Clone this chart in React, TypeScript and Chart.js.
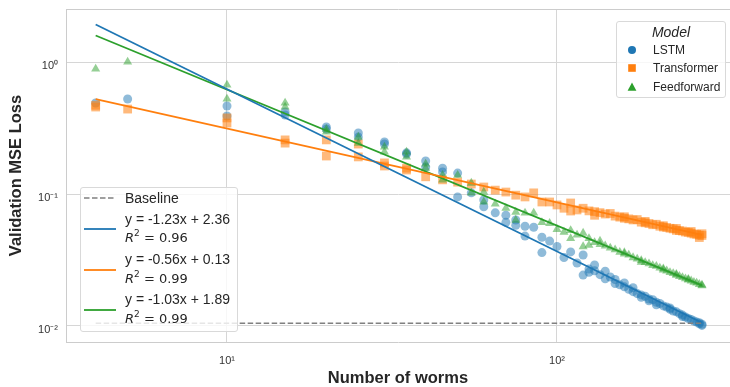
import React, { useEffect, useRef } from "react";
import { Chart, registerables } from "chart.js";

Chart.register(...registerables);

// ---- data (number of worms, validation MSE loss) ----
const lstmPoints: [number, number][] = [
  [4, 0.489], [5, 0.525], [10, 0.464], [10, 0.39], [15, 0.418], [15, 0.397],
  [20, 0.322], [20, 0.311], [25, 0.29], [25, 0.27], [30, 0.248], [30, 0.239],
  [35, 0.201], [35, 0.205], [40, 0.178], [40, 0.16], [45, 0.157], [45, 0.147],
  [50, 0.144], [50, 0.095], [55, 0.102], [60, 0.08], [60, 0.09], [65, 0.072],
  [70, 0.069], [70, 0.061], [75, 0.0635], [75, 0.058], [80, 0.057], [80, 0.048],
  [85, 0.056], [90, 0.047], [90, 0.036], [95, 0.044], [100, 0.04], [105, 0.033],
  [110, 0.0364], [115, 0.03], [120, 0.0345], [120, 0.0243], [125, 0.027], [125, 0.0255],
  [130, 0.0262], [130, 0.029], [135, 0.0245], [140, 0.0228], [140, 0.026], [145, 0.0235],
  [150, 0.021], [150, 0.0225], [155, 0.0205], [160, 0.0198], [160, 0.0212], [165, 0.019],
  [170, 0.0182], [170, 0.0195], [175, 0.0176], [180, 0.0172], [180, 0.0165], [185, 0.0168],
  [190, 0.016], [190, 0.0155], [195, 0.0158], [200, 0.0151], [200, 0.0145], [205, 0.0148],
  [210, 0.0142], [215, 0.0139], [220, 0.0134], [220, 0.0137], [225, 0.013], [230, 0.0128],
  [235, 0.0124], [240, 0.0121], [240, 0.0118], [245, 0.0117], [250, 0.0114], [255, 0.0112],
  [260, 0.0109], [265, 0.0107], [270, 0.0104], [270, 0.0106], [275, 0.0101], [275, 0.0103],
];

const transformerPoints: [number, number][] = [
  [4, 0.456], [4, 0.47], [5, 0.44], [10, 0.377], [10, 0.345], [15, 0.257], [15, 0.243],
  [20, 0.257], [20, 0.194], [25, 0.239], [25, 0.191], [30, 0.172], [30, 0.163],
  [35, 0.157], [35, 0.152], [40, 0.135], [45, 0.128], [50, 0.123], [55, 0.119],
  [60, 0.113], [65, 0.107], [70, 0.1035], [75, 0.098], [80, 0.095], [85, 0.102],
  [90, 0.087], [95, 0.087], [100, 0.0826], [105, 0.078], [110, 0.0855], [110, 0.0743],
  [115, 0.0757], [120, 0.078], [125, 0.0745], [130, 0.0735], [130, 0.069], [135, 0.0722],
  [140, 0.0705], [145, 0.0712], [150, 0.068], [155, 0.0668], [160, 0.0655], [160, 0.0672],
  [165, 0.0648], [170, 0.0636], [175, 0.064], [180, 0.0612], [185, 0.0605], [185, 0.062],
  [190, 0.0598], [195, 0.0585], [200, 0.059], [205, 0.057], [210, 0.0562], [210, 0.0575],
  [215, 0.0558], [220, 0.055], [225, 0.0544], [230, 0.053], [230, 0.0548], [235, 0.0528],
  [240, 0.0524], [245, 0.0515], [250, 0.0512], [255, 0.0505], [255, 0.052], [260, 0.0498],
  [265, 0.0495], [270, 0.0488], [270, 0.0468], [275, 0.0485], [275, 0.05],
];

const feedforwardPoints: [number, number][] = [
  [4, 0.885], [5, 1.0], [10, 0.67], [10, 0.525], [15, 0.489], [15, 0.456],
  [20, 0.295], [20, 0.31], [25, 0.243], [25, 0.27], [30, 0.227], [30, 0.208],
  [35, 0.191], [35, 0.208], [40, 0.157], [40, 0.169], [45, 0.128], [45, 0.139],
  [50, 0.139], [55, 0.121], [55, 0.102], [60, 0.1035], [60, 0.087], [65, 0.084],
  [70, 0.078], [75, 0.073], [75, 0.0635], [80, 0.072], [85, 0.072], [90, 0.061],
  [95, 0.06], [100, 0.054], [105, 0.0515], [110, 0.053], [110, 0.046], [115, 0.049],
  [120, 0.0506], [120, 0.04], [125, 0.046], [125, 0.041], [130, 0.043], [135, 0.0415],
  [135, 0.044], [140, 0.0405], [145, 0.039], [150, 0.0378], [155, 0.0362], [160, 0.0352],
  [160, 0.036], [165, 0.0345], [170, 0.033], [175, 0.0322], [180, 0.0314], [180, 0.0305],
  [185, 0.0303], [190, 0.0297], [195, 0.0288], [200, 0.0284], [205, 0.0275], [210, 0.0266],
  [210, 0.0272], [215, 0.0262], [220, 0.0255], [225, 0.025], [230, 0.0243], [230, 0.0247],
  [235, 0.0238], [240, 0.0233], [245, 0.0228], [250, 0.0223], [250, 0.0226], [255, 0.022],
  [260, 0.0215], [265, 0.0212], [270, 0.0207], [275, 0.0202], [275, 0.0205],
];

// fitted lines (end points) and baseline
const fitX = [4, 275];
const lstmFitY = [1.925, 0.01058];
const transformerFitY = [0.524, 0.049];
const feedforwardFitY = [1.587, 0.02033];
const baselineX = [4, 275];
const baselineY = [0.0105, 0.0105];

// ticks
const xTickValues = [10, 100];
const xTickLabels = ["10\u00B9", "10\u00B2"];
const yTickValues = [0.01, 0.1, 1];
const yTickLabels = ["10\u207B\u00B2", "10\u207B\u00B9", "10\u2070"];

// legends
const modelNames = ["LSTM", "Transformer", "Feedforward"];
const fitEquations = ["y = -1.23x + 2.36", "y = -0.56x + 0.13", "y = -1.03x + 1.89"];
const fitR2 = ["0.96", "0.99", "0.99"];

const COLORS = ["#1f77b4", "#ff7f0e", "#2ca02c"];
const FILLS = ["rgba(31,119,180,0.5)", "rgba(255,127,14,0.55)", "rgba(44,160,44,0.5)"];
const FONT = "'Liberation Sans', Arial, Helvetica, sans-serif";

const toXY = (xs: number[], ys: number[]) => xs.map((x, i) => ({ x, y: ys[i] }));

const framePlugin = {
  id: "frame",
  beforeDatasetsDraw(chart: any) {
    const { ctx, chartArea } = chart;
    ctx.save();
    ctx.strokeStyle = "#cccccc";
    ctx.lineWidth = 1;
    ctx.beginPath();
    ctx.moveTo(chartArea.left, chartArea.top + 0.5);
    ctx.lineTo(chartArea.right + 5, chartArea.top + 0.5);
    ctx.stroke();
    ctx.restore();
  },
};

export default function App() {
  const canvasRef = useRef<HTMLCanvasElement | null>(null);

  useEffect(() => {
    document.body.style.margin = "0";
    const canvas = canvasRef.current;
    if (!canvas) return;
    const lineDs = (label: string, ys: number[], color: string) => ({
      label,
      data: toXY(fitX, ys),
      showLine: true,
      borderColor: color,
      borderWidth: 1.8,
      pointRadius: 0,
      order: 0,
    });
    const chart = new Chart(canvas, {
      type: "scatter",
      data: {
        datasets: [
          {
            label: "Baseline",
            data: toXY(baselineX, baselineY),
            showLine: true,
            borderColor: "#808080",
            borderDash: [5.5, 2.5],
            borderWidth: 1.5,
            pointRadius: 0,
            order: 0,
          } as any,
          lineDs(fitEquations[0], lstmFitY, COLORS[0]),
          lineDs(fitEquations[1], transformerFitY, COLORS[1]),
          lineDs(fitEquations[2], feedforwardFitY, COLORS[2]),
          {
            label: modelNames[2],
            data: feedforwardPoints.map(([x, y]) => ({ x, y })),
            pointStyle: "triangle",
            pointRadius: 5.2,
            backgroundColor: FILLS[2],
            borderWidth: 0,
            order: 1,
          },
          {
            label: modelNames[1],
            data: transformerPoints.map(([x, y]) => ({ x, y })),
            pointStyle: "rect",
            pointRadius: 6.2,
            backgroundColor: FILLS[1],
            borderWidth: 0,
            order: 2,
          },
          {
            label: modelNames[0],
            data: lstmPoints.map(([x, y]) => ({ x, y })),
            pointStyle: "circle",
            pointRadius: 4.5,
            backgroundColor: FILLS[0],
            borderWidth: 0,
            order: 3,
          },
        ],
      },
      options: {
        animation: false,
        responsive: false,
        devicePixelRatio: 1,
        layout: { autoPadding: false, padding: { top: 9, left: 0, right: 0, bottom: 0 } },
        plugins: { legend: { display: false }, tooltip: { enabled: false } },
        scales: {
          x: {
            type: "logarithmic",
            min: 3.252,
            max: 334.4,
            afterFit(s: any) {
              s.height = 45;
              s.paddingLeft = 0;
              s.paddingRight = 0;
              s.paddingTop = 0;
              s.paddingBottom = 0;
            },
            afterBuildTicks(s: any) {
              s.ticks = xTickValues.map((v) => ({ value: v }));
            },
            ticks: {
              autoSkip: false,
              maxRotation: 0,
              padding: 12,
              color: "#333333",
              font: { family: FONT, size: 11 },
              callback: (v: any) => xTickLabels[xTickValues.indexOf(Number(v))] ?? "",
            },
            grid: { color: "#d6d6d6", lineWidth: 1, drawTicks: false },
            border: { display: true, color: "#cccccc" },
            title: {
              display: true,
              text: "Number of worms",
              color: "#262626",
              font: { family: FONT, size: 16.5, weight: "bold", lineHeight: 1 },
              padding: { top: 0, bottom: 0 },
            },
          },
          y: {
            type: "logarithmic",
            min: 0.007564,
            max: 2.521,
            afterFit(s: any) {
              s.width = 66;
              s.paddingLeft = 0;
              s.paddingRight = 0;
              s.paddingTop = 0;
              s.paddingBottom = 0;
            },
            afterBuildTicks(s: any) {
              s.ticks = yTickValues.map((v) => ({ value: v }));
            },
            ticks: {
              autoSkip: false,
              padding: 8,
              labelOffset: 4,
              color: "#333333",
              font: { family: FONT, size: 11 },
              callback: (v: any) => {
                const i = yTickValues.findIndex((t) => Math.abs(t - Number(v)) < 1e-9);
                return i >= 0 ? yTickLabels[i] : "";
              },
            },
            grid: { color: "#d6d6d6", lineWidth: 1, drawTicks: false },
            border: { display: true, color: "#cccccc" },
            title: {
              display: true,
              text: "Validation MSE Loss",
              color: "#262626",
              font: { family: FONT, size: 16.5, weight: "bold", lineHeight: 1.2 },
              padding: { top: 7, bottom: 0 },
            },
          },
        },
      } as any,
      plugins: [framePlugin],
    });
    return () => chart.destroy();
  }, []);

  const textStyle: React.CSSProperties = {
    position: "absolute",
    whiteSpace: "nowrap",
    color: "#262626",
  };

  const fitRows = [0, 1, 2].map((i) => {
    const handleY = 41 + i * 40.5;
    const eqY = 31 + i * 40;
    const r2Y = 50 + i * 40.5;
    return (
      <React.Fragment key={i}>
        <svg
          width={32}
          height={6}
          style={{ position: "absolute", left: 3, top: handleY - 3 }}
        >
          <line x1={0} y1={3} x2={32} y2={3} stroke={COLORS[i]} strokeWidth={1.8} />
        </svg>
        <span
          style={{
            ...textStyle,
            left: 44,
            top: eqY - 8,
            fontFamily: FONT,
            fontSize: 14,
            lineHeight: "16px",
          }}
        >
          {fitEquations[i]}
        </span>
        <span
          style={{
            ...textStyle,
            left: 44,
            top: r2Y - 8,
            fontFamily: "'DejaVu Sans', sans-serif",
            fontSize: 13,
            lineHeight: "16px",
          }}
        >
          <i>R</i>
          <span style={{ fontSize: 9, position: "relative", top: -6 }}>2</span>
          {" = " + fitR2[i]}
        </span>
      </React.Fragment>
    );
  });

  const markers = [
    <circle key="c" cx={5} cy={5} r={4} fill={COLORS[0]} />,
    <rect key="r" x={1.2} y={1.2} width={7.6} height={7.6} fill={COLORS[1]} />,
    <polygon key="t" points="5,0.6 9.4,8.8 0.6,8.8" fill={COLORS[2]} />,
  ];

  return (
    <div style={{ position: "relative", width: 730, height: 387, overflow: "hidden" }}>
      <canvas
        ref={canvasRef}
        width={730}
        height={387}
        style={{ position: "absolute", left: 0, top: 0, width: 730, height: 387 }}
      />
      {/* Model legend */}
      <div
        style={{
          position: "absolute",
          left: 616,
          top: 21,
          width: 110,
          height: 77,
          boxSizing: "border-box",
          background: "rgba(255,255,255,0.8)",
          border: "1px solid #d9d9d9",
          borderRadius: 3,
        }}
      >
        <div
          style={{
            ...textStyle,
            left: 0,
            width: 108,
            textAlign: "center",
            top: 2,
            fontFamily: FONT,
            fontStyle: "italic",
            fontSize: 14,
            lineHeight: "16px",
          }}
        >
          Model
        </div>
        {modelNames.map((name, i) => {
          const cy = 28 + i * 18.4;
          return (
            <React.Fragment key={name}>
              <svg width={10} height={10} style={{ position: "absolute", left: 10, top: cy - 5 }}>
                {markers[i]}
              </svg>
              <span
                style={{
                  ...textStyle,
                  left: 36,
                  top: cy - 8,
                  fontFamily: FONT,
                  fontSize: 12,
                  lineHeight: "16px",
                }}
              >
                {name}
              </span>
            </React.Fragment>
          );
        })}
      </div>
      {/* Fit legend */}
      <div
        style={{
          position: "absolute",
          left: 80,
          top: 187,
          width: 158,
          height: 145,
          boxSizing: "border-box",
          background: "rgba(255,255,255,0.8)",
          border: "1px solid #d9d9d9",
          borderRadius: 3,
        }}
      >
        <svg width={32} height={6} style={{ position: "absolute", left: 3, top: 7 }}>
          <line
            x1={0}
            y1={3}
            x2={32}
            y2={3}
            stroke="#808080"
            strokeWidth={1.5}
            strokeDasharray="5.5 2.5"
          />
        </svg>
        <span
          style={{
            ...textStyle,
            left: 44,
            top: 2,
            fontFamily: FONT,
            fontSize: 14,
            lineHeight: "16px",
          }}
        >
          Baseline
        </span>
        {fitRows}
      </div>
    </div>
  );
}
